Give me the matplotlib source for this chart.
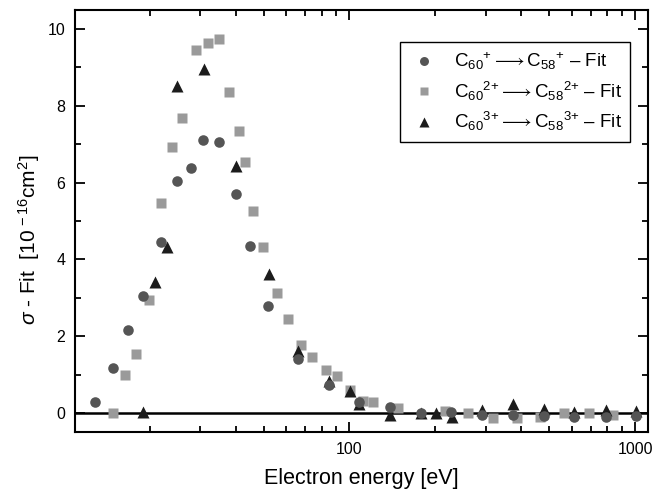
import matplotlib
matplotlib.use("Agg")
import matplotlib.pyplot as plt
from matplotlib.ticker import FixedLocator, NullFormatter, MultipleLocator

plt.rcParams['font.family'] = ['Liberation Sans', 'DejaVu Sans']
plt.rcParams['mathtext.fontset'] = 'custom'
plt.rcParams['mathtext.rm'] = 'Liberation Sans'
plt.rcParams['mathtext.it'] = 'Liberation Sans:italic'

# C60+ -> C58+
e1 = [12.9, 14.8, 16.8, 18.9, 21.8, 24.8, 27.9, 30.8, 34.9, 39.9, 44.8, 51.8,
      65.8, 84.7, 108.2, 138.7, 177.8, 226.5, 291, 374, 481, 613, 788, 1009]
s1 = [0.28, 1.16, 2.16, 3.05, 4.45, 6.04, 6.37, 7.10, 7.07, 5.70, 4.36, 2.79,
      1.41, 0.73, 0.29, 0.15, -0.01, 0.02, -0.05, -0.05, -0.07, -0.10, -0.10, -0.08]

# C60 2+ -> C58 2+
e2 = [14.9, 16.4, 17.9, 19.9, 21.9, 23.9, 25.9, 28.9, 31.9, 34.9, 38.0, 41.0,
      42.9, 45.8, 49.8, 55.8, 60.8, 67.8, 74.1, 82.9, 90.2, 100.4, 111.8, 121.2,
      148.3, 216, 261, 318, 386, 463, 566, 688, 838]
s2 = [0.01, 1.00, 1.53, 2.94, 5.47, 6.92, 7.69, 9.45, 9.65, 9.74, 8.37, 7.34,
      6.55, 5.25, 4.32, 3.13, 2.45, 1.76, 1.45, 1.13, 0.96, 0.61, 0.32, 0.29,
      0.12, 0.05, -0.01, -0.12, -0.12, -0.10, -0.01, -0.01, -0.05]

# C60 3+ -> C58 3+
e3 = [18.9, 20.9, 22.9, 24.8, 30.9, 39.9, 52.1, 65.8, 85.1, 100.2, 108.2,
      138.7, 177.8, 200.7, 228.4, 291, 374, 481, 613, 788, 1009]
s3 = [0.03, 3.40, 4.32, 8.52, 8.96, 6.44, 3.62, 1.62, 0.82, 0.57, 0.23,
      -0.05, -0.01, -0.01, -0.10, 0.08, 0.23, 0.10, 0.02, 0.08, 0.06]

charges = ['+', '2{+}', '3{+}']
labels = [r'C$_{60}$$^{%s}$$\longrightarrow$C$_{58}$$^{%s}$ ' % (q, q) + '\u2013 Fit'
          for q in charges]

fig = plt.figure(figsize=(6.69, 4.95), dpi=100)
ax = fig.add_axes([0.112, 0.127, 0.857, 0.853])

ax.axhline(0, color='black', lw=1.8, zorder=1)
h2, = ax.plot(e2, s2, 's', color='#9a9a9a', ms=6.8, mec='none', zorder=2)
h3, = ax.plot(e3, s3, '^', color='#1c1c1c', ms=8, mec='none', zorder=3)
h1, = ax.plot(e1, s1, 'o', color='#555555', ms=7.6, mec='none', zorder=4)

ax.set_xscale('log')
ax.set_xlim(10.93, 1112)
ax.set_ylim(-0.5, 10.5)
ax.xaxis.set_major_locator(FixedLocator([100, 1000]))
ax.set_xticklabels(['100', '1000'])
ax.xaxis.set_minor_locator(FixedLocator([20, 30, 40, 50, 60, 70, 80, 90,
                                         200, 300, 400, 500, 600, 700, 800, 900]))
ax.xaxis.set_minor_formatter(NullFormatter())
ax.yaxis.set_major_locator(MultipleLocator(2))
ax.yaxis.set_minor_locator(MultipleLocator(1))

ax.tick_params(which='both', direction='in', top=True, right=True, width=1.3,
               labelsize=11.5)
ax.tick_params(which='major', length=7, pad=7)
ax.tick_params(which='minor', length=4)
for sp in ax.spines.values():
    sp.set_linewidth(1.5)

ax.set_xlabel('Electron energy [eV]', fontsize=15.5, labelpad=8)
ax.set_ylabel(r'$\mathit{\sigma}$ - Fit  [10$^{\,-16}$cm$^{2}$]', fontsize=15)
ax.yaxis.set_label_coords(-0.058, 0.455)

leg = ax.legend([h1, h2, h3], labels, loc='upper right',
                bbox_to_anchor=(0.9686, 0.924), borderaxespad=0,
                fontsize=13.5, fancybox=False, edgecolor='black', framealpha=1,
                markerscale=0.85, handletextpad=0.8, borderpad=0.45,
                labelspacing=0.4, handlelength=1.6)
leg.get_frame().set_linewidth(1.0)

fig.savefig('out.png', dpi=100)
